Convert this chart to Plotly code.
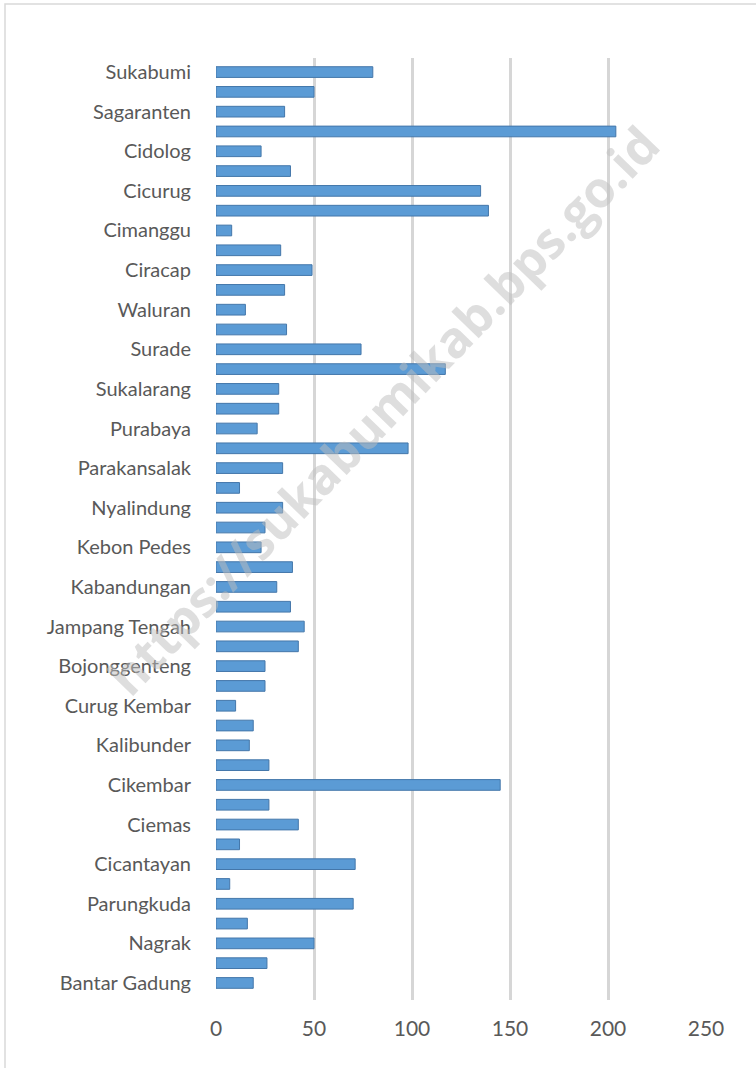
import plotly.graph_objects as go

# Districts listed top to bottom, as drawn
districts = [
    "Sukabumi", "Kadudampit", "Sagaranten", "Palabuhanratu", "Cidolog", "Cidadap",
    "Cicurug", "Cibadak", "Cimanggu", "Cibitung", "Ciracap", "Jampang Kulon",
    "Waluran", "Tegal Buleud", "Surade", "Cisaat", "Sukalarang", "Sukaraja",
    "Purabaya", "Simpenan", "Parakansalak", "Cireunghas", "Nyalindung", "Gegerbitung",
    "Kebon Pedes", "Cisolok", "Kabandungan", "Cikakak", "Jampang Tengah", "Warungkiara",
    "Bojonggenteng", "Kalapanunggal", "Curug Kembar", "Pabuaran", "Kalibunder", "Lengkong",
    "Cikembar", "Cikidang", "Ciemas", "Cidahu", "Cicantayan", "Ciambar",
    "Parungkuda", "Caringin", "Nagrak", "Gunungguruh", "Bantar Gadung",
]
values = [
    80, 50, 35, 204, 23, 38,
    135, 139, 8, 33, 49, 35,
    15, 36, 74, 117, 32, 32,
    21, 98, 34, 12, 34, 25,
    23, 39, 31, 38, 45, 42,
    25, 25, 10, 19, 17, 27,
    145, 27, 42, 12, 71, 7,
    70, 16, 50, 26, 19,
]
# Only every other category label is printed on the axis
shown_labels = districts[::2]
x_ticks = [0, 50, 100, 150, 200, 250]

W, H = 756, 1068
L, T = 216, 58
pw, ph = 490, 942
R, B = W - L - pw, H - T - ph

def px_to_paper_x(p):
    return (p - L) / pw

def px_to_paper_y(p):
    return (T + ph - p) / ph

fig = go.Figure()
fig.add_trace(go.Bar(
    y=districts,
    x=values,
    orientation="h",
    marker=dict(color="#5B9BD5", line=dict(color="#4477AA", width=1)),
    hoverinfo="x+y",
))

n = len(districts)
fig.update_layout(
    width=W, height=H,
    margin=dict(l=L, r=R, t=T, b=B),
    paper_bgcolor="white",
    plot_bgcolor="white",
    showlegend=False,
    bargap=0.46,
    font=dict(family="Lato, Open Sans, sans-serif", color="#595959"),
    xaxis=dict(
        range=[0, 250],
        tickvals=x_ticks,
        showgrid=True,
        gridcolor="#D6D6D6",
        gridwidth=3,
        zeroline=False,
        showline=False,
        ticks="outside",
        ticklen=10,
        tickcolor="rgba(0,0,0,0)",
        tickfont=dict(size=21, color="#595959"),
    ),
    yaxis=dict(
        type="category",
        categoryorder="array",
        categoryarray=districts,
        range=[n - 1 + 0.86, -0.71],
        tickvals=shown_labels,
        ticktext=shown_labels,
        showgrid=False,
        zeroline=False,
        showline=False,
        ticks="outside",
        ticklen=20,
        tickcolor="rgba(0,0,0,0)",
        tickfont=dict(size=20, color="#595959"),
    ),
    shapes=[dict(
        type="rect", xref="paper", yref="paper",
        x0=px_to_paper_x(5), x1=px_to_paper_x(790),
        y0=px_to_paper_y(1100), y1=px_to_paper_y(4),
        line=dict(color="#D9D9D9", width=1.5),
        fillcolor="rgba(0,0,0,0)",
        layer="below",
    )],
    annotations=[dict(
        text="<b>https://sukabumikab.bps.go.id</b>",
        xref="paper", yref="paper",
        x=px_to_paper_x(383), y=px_to_paper_y(410),
        xanchor="center", yanchor="middle",
        showarrow=False,
        textangle=-46,
        font=dict(family="Open Sans, sans-serif", size=50, color="rgba(190,190,190,0.5)"),
    )],
)

fig.write_html(
    "out.html",
    config={"displayModeBar": False},
    post_script="document.body.style.margin='0px';",
)
